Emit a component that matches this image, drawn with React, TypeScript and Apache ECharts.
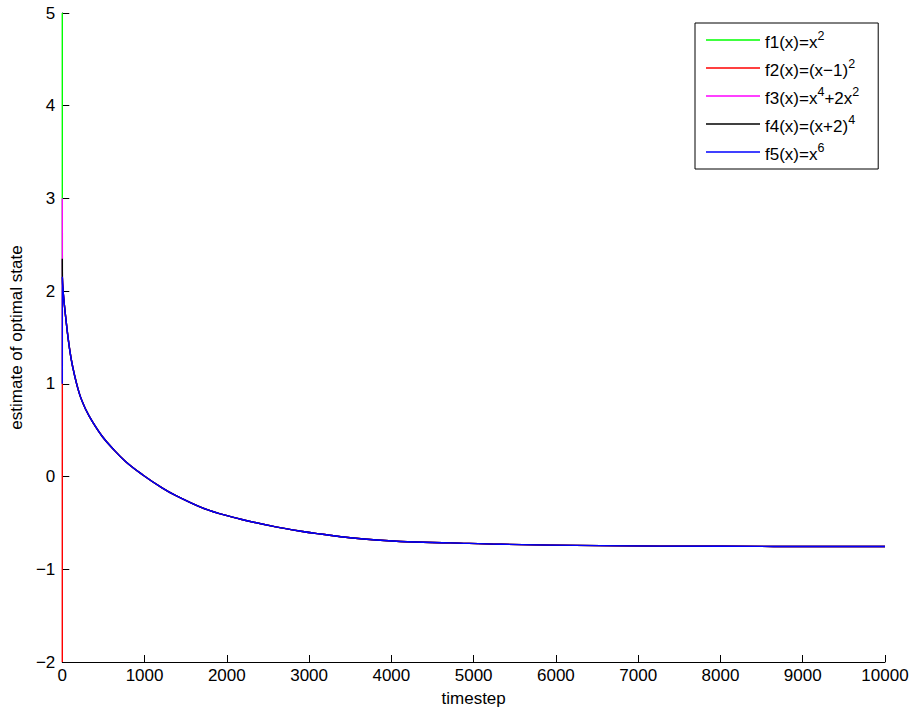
import React, { useEffect, useRef } from "react";
import * as echarts from "echarts";

const timesteps = [0, 1, 12, 45, 85, 125, 206, 287, 368, 489, 610, 772, 975, 1218, 1370, 1770, 2170, 2580, 2900, 3140, 3500, 4110, 4720, 5330, 6540, 8000, 10000];
// initial estimate (timestep 0) of each series
const startValues = [5, -2, 3, 2.35, 1];
// common trajectory after the first step
const pathValues = [2.15, 1.98, 1.69, 1.4, 1.19, 0.9, 0.72, 0.59, 0.43, 0.305, 0.16, 0.02, -0.125, -0.2, -0.36, -0.46, -0.54, -0.59, -0.62, -0.66, -0.7, -0.715, -0.73, -0.745, -0.752, -0.755];
const seriesNames = ["f1(x)=x^2", "f2(x)=(x\u22121)^2", "f3(x)=x^4+2x^2", "f4(x)=(x+2)^4", "f5(x)=x^6"];
const seriesColors = ["#00ff00", "#ff0000", "#ff00ff", "#000000", "#0000ff"];
const xTicks = { min: 0, max: 10000, interval: 1000 };
const yTicks = { min: -2, max: 5, interval: 1 };

const FONT = "'Liberation Sans', Arial, Helvetica, sans-serif";

export default function App() {
  const ref = useRef<HTMLDivElement>(null);
  useEffect(() => {
    if (!ref.current) return;
    const chart = echarts.init(ref.current, null, { renderer: "svg" });
    const series = seriesNames.map((name, i) => ({
      name,
      type: "line",
      data: timesteps.map((t, j) => [t, j === 0 ? startValues[i] : pathValues[j - 1]]),
      symbol: "none",
      smooth: 0.4,
      lineStyle: { color: seriesColors[i], width: 1.4 },
      itemStyle: { color: seriesColors[i] },
      clip: true,
    }));
    chart.setOption({
      animation: false,
      backgroundColor: "#ffffff",
      textStyle: { fontFamily: FONT },
      grid: { left: 61, right: 28, top: 13, bottom: 52, containLabel: false },
      legend: {
        orient: "vertical",
        left: 695,
        top: 23,
        padding: [6, 19, 6, 11],
        itemGap: 6,
        itemWidth: 54,
        itemHeight: 1.6,
        icon: "rect",
        borderColor: "#000",
        borderWidth: 1,
        backgroundColor: "#fff",
        data: seriesNames,
        formatter: (name: string) =>
          "{n|" + name.replace(/\^(\d)/g, "}{s|$1}{n|") + "}",
        textStyle: {
          fontFamily: FONT,
          color: "#000",
          rich: {
            n: { fontSize: 17, fontFamily: FONT, color: "#000", lineHeight: 22, verticalAlign: "bottom" },
            s: { fontSize: 12.5, fontFamily: FONT, color: "#000", lineHeight: 22, verticalAlign: "top" },
          },
        },
      },
      xAxis: {
        type: "value",
        min: xTicks.min,
        max: xTicks.max,
        interval: xTicks.interval,
        name: "timestep",
        nameLocation: "middle",
        nameGap: 28,
        nameTextStyle: { fontSize: 17, color: "#000", fontFamily: FONT },
        axisLine: { show: true, onZero: false, lineStyle: { color: "#000", width: 1 } },
        axisTick: { show: true, inside: true, length: 7, lineStyle: { color: "#000" } },
        axisLabel: { fontSize: 17, color: "#000", margin: 5, fontFamily: FONT, formatter: (v: number) => String(v) },
        splitLine: { show: false },
      },
      yAxis: {
        type: "value",
        min: yTicks.min,
        max: yTicks.max,
        interval: yTicks.interval,
        name: "estimate of optimal state",
        nameLocation: "middle",
        nameGap: 36,
        nameTextStyle: { fontSize: 17, color: "#000", fontFamily: FONT },
        axisLine: { show: true, onZero: false, lineStyle: { color: "#000", width: 1 } },
        axisTick: { show: true, inside: true, length: 7, lineStyle: { color: "#000" } },
        axisLabel: {
          fontSize: 17,
          color: "#000",
          margin: 7,
          fontFamily: FONT,
          formatter: (v: number) => (v < 0 ? "\u2212" + Math.abs(v) : String(v)),
        },
        splitLine: { show: false },
      },
      series,
    });
    return () => chart.dispose();
  }, []);
  return <div ref={ref} style={{ width: 913, height: 714, position: "absolute", left: 0, top: 0, background: "#fff" }} />;
}
